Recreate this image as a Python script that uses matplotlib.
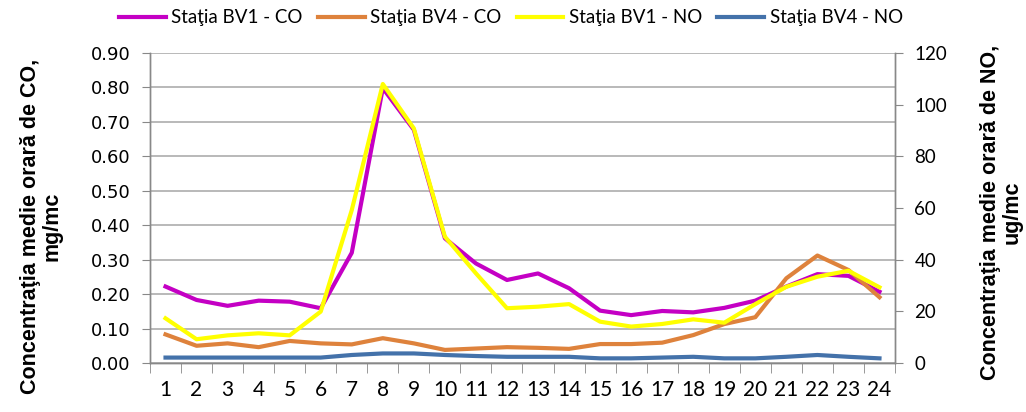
import matplotlib
matplotlib.use("Agg")
import matplotlib.pyplot as plt

# Hourly averages, hours 1..24
hours = list(range(1, 25))
co_bv1 = [0.222, 0.183, 0.166, 0.181, 0.178, 0.159, 0.320, 0.798, 0.677, 0.362, 0.289, 0.241,
          0.260, 0.217, 0.152, 0.139, 0.151, 0.147, 0.160, 0.181, 0.222, 0.258, 0.253, 0.207]
co_bv4 = [0.083, 0.050, 0.057, 0.046, 0.064, 0.057, 0.054, 0.072, 0.057, 0.038, 0.042, 0.046,
          0.044, 0.041, 0.055, 0.055, 0.059, 0.081, 0.113, 0.133, 0.246, 0.312, 0.270, 0.191]
no_bv1 = [17.3, 9.2, 10.7, 11.5, 10.7, 19.9, 59.2, 108.0, 90.8, 48.9, 34.7, 21.2,
          21.8, 22.8, 16.0, 14.1, 15.1, 16.9, 15.6, 22.8, 29.5, 33.4, 35.7, 29.3]
no_bv4 = [2.1, 2.1, 2.1, 2.1, 2.1, 2.1, 3.1, 3.7, 3.7, 3.1, 2.7, 2.4,
          2.4, 2.4, 1.8, 1.8, 2.1, 2.4, 1.8, 1.8, 2.4, 3.1, 2.4, 1.8]

labels = ["Staţia BV1 - CO", "Staţia BV4 - CO", "Staţia BV1 - NO", "Staţia BV4 - NO"]
colors = ["#C400C4", "#DE823C", "#FFFF00", "#4472AA"]

co_ticks = [i / 10 for i in range(10)]
no_ticks = list(range(0, 121, 20))

fig = plt.figure(figsize=(10.26, 4.12), dpi=100)
ax = fig.add_axes([150 / 1026, 1 - 363 / 412, 745 / 1026, 310 / 412])
ax2 = ax.twinx()

lw = 3.0
l1, = ax.plot(hours, co_bv1, color=colors[0], lw=lw, label=labels[0])
l2, = ax.plot(hours, co_bv4, color=colors[1], lw=lw, label=labels[1])
l3, = ax2.plot(hours, no_bv1, color=colors[2], lw=lw, label=labels[2])
l4, = ax2.plot(hours, no_bv4, color=colors[3], lw=lw, label=labels[3])

ax.set_xlim(0.5, 24.5)
ax.set_ylim(0, 0.9)
ax2.set_ylim(0, 120)

ax.set_yticks(co_ticks)
ax.set_yticklabels([f"{v:.2f}" for v in co_ticks], fontfamily="DejaVu Sans", fontsize=13)
ax2.set_yticks(no_ticks)
ax2.set_yticklabels([str(v) for v in no_ticks], fontfamily="Lato", fontsize=13.5)

# category labels centred, tick marks between categories
ax.set_xticks(hours)
ax.set_xticklabels([str(h) for h in hours], fontfamily="Lato", fontsize=15)
ax.set_xticks([h + 0.5 for h in range(0, 25)], minor=True)
ax.tick_params(axis="x", which="major", length=0, pad=12)
ax.tick_params(axis="x", which="minor", length=7, color="#888888", direction="out")
ax.tick_params(axis="y", length=6, color="#888888", direction="out", pad=8)
ax2.tick_params(axis="y", length=6, color="#888888", direction="out", pad=8)

ax.grid(axis="y", color="#A6A6A6", lw=1.1)
ax.set_axisbelow(True)
for a in (ax, ax2):
    a.spines["top"].set_visible(False)
    for s in ("left", "right", "bottom"):
        a.spines[s].set_color("#888888")
        a.spines[s].set_linewidth(1.0)

fig.text(41 / 1026, 1 - 226 / 412, "Concentraţia medie orară de CO,\nmg/mc",
         rotation=90, ha="center", va="center", multialignment="center",
         fontfamily="Liberation Sans", fontweight="bold", fontsize=15.5, linespacing=1.05)
fig.text(1001 / 1026, 1 - 212 / 412, "Concentraţia medie orară de NO,\nug/mc",
         rotation=90, ha="center", va="center", multialignment="center",
         fontfamily="Liberation Sans", fontweight="bold", fontsize=15.5, linespacing=1.05)

fig.legend(handles=[l1, l2, l3, l4], loc="center", bbox_to_anchor=(0.498, 1 - 18 / 412),
           ncol=4, frameon=False, prop={"family": "Lato", "size": 13.5},
           handlelength=2.5, handletextpad=0.3, columnspacing=0.8, borderaxespad=0)

fig.savefig("out.png", dpi=100)
